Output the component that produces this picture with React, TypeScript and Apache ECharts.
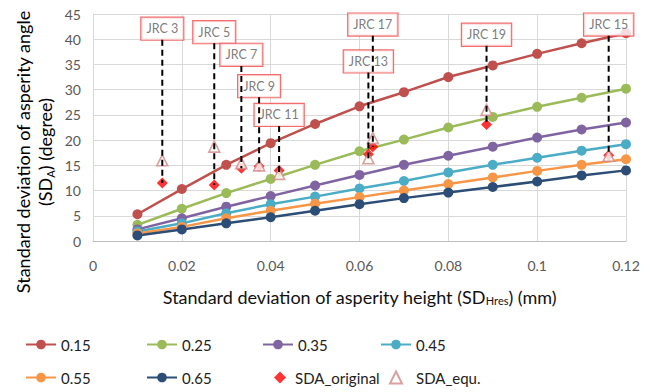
import React, { useEffect, useRef } from "react";
import * as echarts from "echarts";

// ---- data ----
const xValues = [0.01, 0.02, 0.03, 0.04, 0.05, 0.06, 0.07, 0.08, 0.09, 0.1, 0.11, 0.12];
const seriesNames = ["0.15", "0.25", "0.35", "0.45", "0.55", "0.65"];
const s015 = [5.3, 10.3, 15.1, 19.4, 23.2, 26.7, 29.5, 32.5, 34.8, 37.1, 39.2, 41.2];
const s025 = [3.2, 6.4, 9.5, 12.3, 15.1, 17.8, 20.1, 22.5, 24.6, 26.6, 28.4, 30.2];
const s035 = [2.3, 4.5, 6.8, 8.9, 11.0, 13.1, 15.1, 16.9, 18.7, 20.5, 22.1, 23.5];
const s045 = [1.9, 3.5, 5.5, 7.3, 8.8, 10.4, 11.9, 13.6, 15.1, 16.5, 17.9, 19.2];
const s055 = [1.5, 2.8, 4.5, 6.0, 7.4, 8.7, 10.0, 11.3, 12.6, 13.9, 15.1, 16.2];
const s065 = [1.1, 2.3, 3.5, 4.7, 6.0, 7.3, 8.5, 9.6, 10.7, 11.8, 13.0, 14.0];
const seriesValues = [s015, s025, s035, s045, s055, s065];

const jrcNames = ["JRC 3", "JRC 5", "JRC 7", "JRC 9", "JRC 11", "JRC 13", "JRC 17", "JRC 19", "JRC 15"];
const jrcX = [0.0156, 0.0273, 0.0334, 0.0374, 0.0419, 0.062, 0.063, 0.0886, 0.1161];
const sdaOriginal = [11.5, 11.1, 14.4, 14.8, 14.0, 17.2, 18.7, 23.1, 17.0];
const sdaEqu = [16.0, 18.7, 15.4, 15.0, 13.3, 16.4, 20.4, 26.0, 16.9];

// ---- layout (annotation box centres, in axis units) ----
const labelAnchorY = [42.1, 41.4, 36.9, 30.7, 25.0, 35.6, 42.9, 40.9, 42.9];
const labelHalfHeight = 2.2;

const colors = ["#C0504D", "#9BBB59", "#8064A2", "#4BACC6", "#F79646", "#2C4D75"];
const FONT = "Lato, 'Liberation Sans', sans-serif";

export default function App() {
  const ref = useRef<HTMLDivElement>(null);
  useEffect(() => {
    if (!ref.current) return;
    const chart = echarts.init(ref.current, undefined, { renderer: "svg" });

    const lineSeries = seriesNames.map((name, i) => ({
      name,
      type: "line",
      data: xValues.map((x, j) => [x, seriesValues[i][j]]),
      symbol: "circle",
      symbolSize: 10,
      lineStyle: { color: colors[i], width: 2.5 },
      itemStyle: { color: colors[i] },
      z: 3,
    }));

    const dashSeries = jrcNames.map((n, i) => ({
      name: "dash_" + n,
      type: "line",
      data: [
        [jrcX[i], labelAnchorY[i] - labelHalfHeight],
        [jrcX[i], Math.min(sdaOriginal[i], sdaEqu[i])],
      ],
      symbol: "none",
      lineStyle: { color: "#000", width: 2, type: [6, 4] },
      z: 12,
      silent: true,
    }));

    const labelSeries = {
      name: "labels",
      type: "scatter",
      data: jrcNames.map((n, i) => ({ name: n, value: [jrcX[i], labelAnchorY[i]] })),
      symbol: "rect",
      symbolSize: 1,
      itemStyle: { color: "rgba(0,0,0,0)" },
      label: {
        show: true,
        position: "inside",
        formatter: (p: any) => p.name,
        color: "#595959",
        fontSize: 12.5,
        fontFamily: FONT,
        backgroundColor: "#fff",
        borderColor: "#F0484A",
        borderWidth: 1.2,
        padding: [5, 5, 4, 5],
      },
      z: 10,
      silent: true,
    };

    const legendItems = [
      { name: "0.15", left: 25, top: 337, w: 30, h: 12, pad: 0 },
      { name: "0.25", left: 146, top: 337, w: 30, h: 12, pad: 0 },
      { name: "0.35", left: 262, top: 337, w: 30, h: 12, pad: 0 },
      { name: "0.45", left: 380, top: 337, w: 30, h: 12, pad: 0 },
      { name: "0.55", left: 25, top: 370, w: 30, h: 12, pad: 0 },
      { name: "0.65", left: 146, top: 370, w: 30, h: 12, pad: 0 },
      { name: "SDA_original", left: 274, top: 370, w: 12, h: 12, pad: 4 },
      { name: "SDA_equ.", left: 389, top: 370, w: 12, h: 12, pad: 9 },
    ];

    const TITLE = 18;
    const subRich = { fontSize: 11, verticalAlign: "bottom", padding: [8, 0, 0, 0], fontFamily: FONT, color: "#111" };

    chart.setOption({
      animation: false,
      textStyle: { fontFamily: FONT },
      grid: { left: 93, right: 28, top: 14, bottom: 151 },
      legend: legendItems.map((l) => ({
        data: [l.name],
        left: l.left,
        top: l.top,
        padding: 0,
        itemWidth: l.w,
        itemHeight: l.h,
        textStyle: { fontSize: 15, color: "#222", fontFamily: FONT, padding: [0, 0, 0, l.pad] },
        selectedMode: false,
      })),
      graphic: [
        {
          type: "text",
          x: 34,
          y: 152,
          rotation: Math.PI / 2,
          style: {
            text: "{t|Standard deviation of asperity angle}\n{t|(SD}{sub|A}{t|) (degree)}",
            align: "center",
            verticalAlign: "middle",
            rich: {
              t: { fontSize: TITLE, fontFamily: FONT, color: "#111", lineHeight: 22 },
              sub: { fontSize: 11, fontFamily: FONT, color: "#111", verticalAlign: "bottom", lineHeight: 22, padding: [8, 0, 0, 0] },
            },
          },
        },
      ],
      xAxis: {
        type: "value",
        min: 0,
        max: 0.12,
        interval: 0.02,
        axisLine: { show: true, lineStyle: { color: "#BFBFBF" } },
        axisTick: { show: false },
        axisLabel: { color: "#595959", fontSize: 14, margin: 17, fontFamily: FONT },
        splitLine: { show: true, lineStyle: { color: "#D9D9D9" } },
        name: "{t|Standard deviation of asperity height (SD}{sub|Hres}{t|) (mm)}",
        nameLocation: "middle",
        nameGap: 46,
        nameTextStyle: {
          fontSize: TITLE,
          color: "#111",
          fontFamily: FONT,
          rich: { t: { fontSize: TITLE, fontFamily: FONT, color: "#111" }, sub: subRich },
        },
      },
      yAxis: {
        type: "value",
        min: 0,
        max: 45,
        interval: 5,
        axisLine: { show: true, lineStyle: { color: "#D9D9D9" } },
        axisTick: { show: false },
        axisLabel: { color: "#595959", fontSize: 14, margin: 12, fontFamily: FONT },
        splitLine: { show: true, lineStyle: { color: "#D9D9D9" } },
      },
      series: [
        ...lineSeries,
        ...dashSeries,
        {
          name: "SDA_original",
          type: "scatter",
          data: jrcX.map((x, i) => [x, sdaOriginal[i]]),
          symbol: "diamond",
          symbolSize: 11,
          itemStyle: { color: "#FF0000" },
          z: 6,
        },
        {
          name: "SDA_equ.",
          type: "scatter",
          data: jrcX.map((x, i) => [x, sdaEqu[i]]),
          symbol: "triangle",
          symbolSize: 11,
          itemStyle: { color: "#fff", borderColor: "#D08A88", borderWidth: 1.6 },
          z: 7,
        },
        labelSeries,
      ],
    });
    return () => chart.dispose();
  }, []);
  return <div ref={ref} style={{ width: 654, height: 392, position: "absolute", left: 0, top: 0 }} />;
}
